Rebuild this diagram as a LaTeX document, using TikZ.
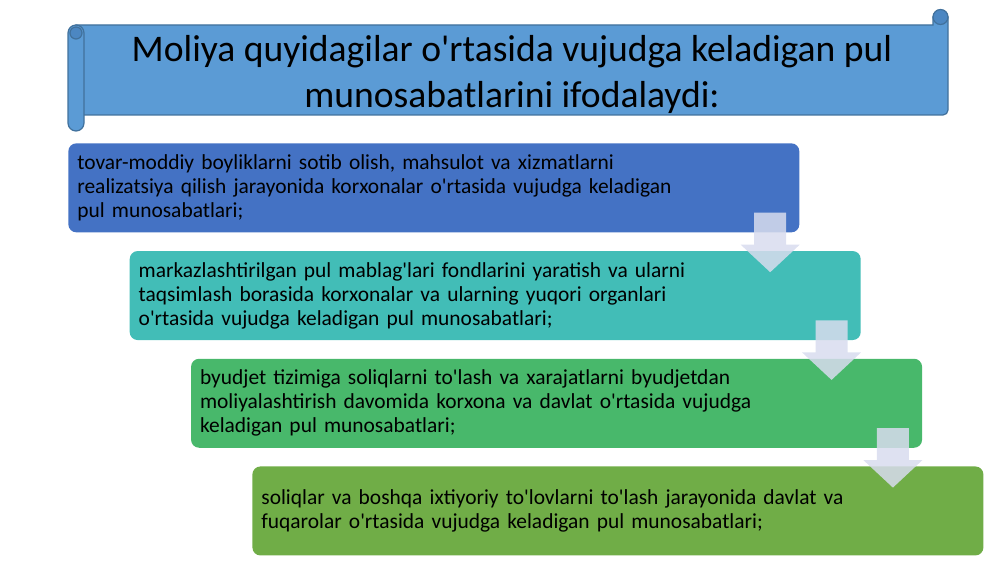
\documentclass[tikz,border=0pt]{standalone}
\usepackage{fontspec}
\setmainfont{Carlito}[Ligatures=TeXOff]
\usepackage{tikz}
\usetikzlibrary{positioning}
\usetikzlibrary{calc}

\definecolor{bannerblue}{HTML}{5B9BD5}
\definecolor{bannerdark}{HTML}{4C87C2}
\definecolor{bannerline}{HTML}{41719C}
\definecolor{boxone}{HTML}{4472C4}
\definecolor{boxtwo}{HTML}{42BDB7}
\definecolor{boxthree}{HTML}{48B86B}
\definecolor{boxfour}{HTML}{70AD47}
\definecolor{arrowfill}{HTML}{D8DCEE}

\tikzset{
  stepbox/.style={rectangle, rounded corners=0.16cm, anchor=north west,
    minimum width=14.62cm, minimum height=1.78cm, text width=14.26cm,
    inner xsep=0.18cm, inner ysep=0pt, align=left, text=black,
    font=\fontsize{12.2}{13.6}\selectfont},
  flowarrow/.style={fill=arrowfill, fill opacity=0.85},
  scrollpart/.style={draw=bannerline, line width=0.7pt}
}

\begin{document}
\begin{tikzpicture}
\useasboundingbox (0,0) rectangle (20,-11.24);

  % scroll banner
  \def\bt{-0.5}
  \def\bb{-2.3}
  \filldraw[scrollpart, fill=bannerblue] (1.52,\bt) -- (18.66,\bt) -- (18.66,-0.34) -- (18.96,-0.34)
      -- (18.96,\bb+0.1) arc (0:-90:0.1) -- (1.52,\bb) -- cycle;
  \filldraw[scrollpart, fill=bannerdark] (18.81,-0.34) circle (0.15);
  \filldraw[scrollpart, fill=bannerblue, rounded corners=0.16cm] (1.36,\bt) rectangle (1.68,-2.62);
  \filldraw[scrollpart, fill=bannerdark] (1.52,-0.66) circle (0.12);

  \node[font=\fontsize{21.4}{26.7}\selectfont, align=center, text=black] (title) at (10.24,-1.49)
      {Moliya quyidagilar o'rtasida vujudga keladigan pul\\munosabatlarini ifodalaydi:};

  % steps
  \node[stepbox, fill=boxone] (b1) at (1.36,-2.86)
      {tovar-moddiy boyliklarni sotib olish, mahsulot va xizmatlarni\\realizatsiya qilish jarayonida korxonalar o'rtasida vujudga keladigan\\pul munosabatlari;};
  \node[stepbox, fill=boxtwo, below right=0.36cm and 1.227cm of b1.south west] (b2)
      {markazlashtirilgan pul mablag'lari fondlarini yaratish va ularni\\taqsimlash borasida korxonalar va ularning yuqori organlari\\o'rtasida vujudga keladigan pul munosabatlari;};
  \node[stepbox, fill=boxthree, below right=0.36cm and 1.227cm of b2.south west] (b3)
      {byudjet tizimiga soliqlarni to'lash va xarajatlarni byudjetdan\\moliyalashtirish davomida korxona va davlat o'rtasida vujudga\\keladigan pul munosabatlari;};
  \node[stepbox, fill=boxfour, below right=0.36cm and 1.227cm of b3.south west] (b4)
      {soliqlar va boshqa ixtiyoriy to'lovlarni to'lash jarayonida davlat va\\fuqarolar o'rtasida vujudga keladigan pul munosabatlari;};

  % arrows
  \fill[flowarrow] ($(b1.south east)+(-0.91,0.4)$) -- ++(0.64,0) -- ++(0,-0.64) -- ++(0.27,0)
      -- ++(-0.59,-0.55) -- ++(-0.59,0.55) -- ++(0.27,0) -- cycle;
  \fill[flowarrow] ($(b2.south east)+(-0.91,0.4)$) -- ++(0.64,0) -- ++(0,-0.64) -- ++(0.27,0)
      -- ++(-0.59,-0.55) -- ++(-0.59,0.55) -- ++(0.27,0) -- cycle;
  \fill[flowarrow] ($(b3.south east)+(-0.91,0.4)$) -- ++(0.64,0) -- ++(0,-0.64) -- ++(0.27,0)
      -- ++(-0.59,-0.55) -- ++(-0.59,0.55) -- ++(0.27,0) -- cycle;

\end{tikzpicture}
\end{document}
